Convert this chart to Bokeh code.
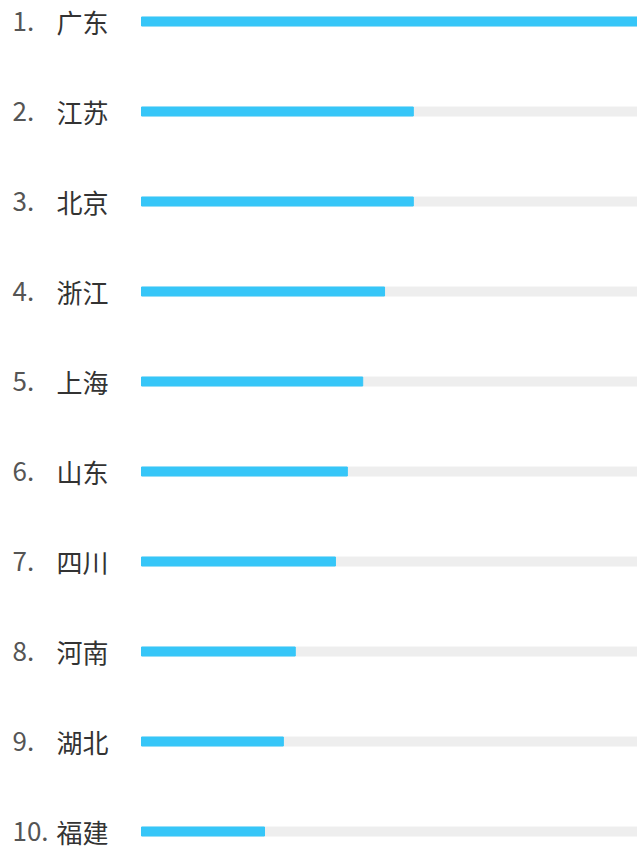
from bokeh.plotting import figure
from bokeh.models import Range1d, ColumnDataSource
from bokeh.core.properties import value
from bokeh.embed import file_html
from bokeh.resources import INLINE

provinces = ["广东", "江苏", "北京", "浙江", "上海", "山东", "四川", "河南", "湖北", "福建"]
ranks = ["1.", "2.", "3.", "4.", "5.", "6.", "7.", "8.", "9.", "10."]
values = [1.0, 0.548, 0.548, 0.49, 0.446, 0.415, 0.391, 0.31, 0.286, 0.248]

W, H = 637, 849
bar_left_px = 141
row_px = 90
first_px = 21

n = len(provinces)
ys = list(range(n))
src = ColumnDataSource(dict(y=ys, v=values, one=[1.0]*n, prov=provinces, rank=ranks))

unit = (W - bar_left_px)
p = figure(width=W, height=H, output_backend="svg", toolbar_location=None,
           x_range=Range1d(-bar_left_px / unit, 1.0),
           y_range=Range1d((H - first_px) / row_px, -first_px / row_px),
           min_border=0, outline_line_color=None)
p.axis.visible = False
p.grid.visible = False
p.background_fill_color = "white"
p.border_fill_color = "white"

bar_h = 9 / row_px
p.hbar(y="y", left=0, right="one", height=bar_h, source=src, color="#EEEEEE")
p.hbar(y="y", left=0, right="v", height=bar_h, source=src, color="#36C6F8")

p.text(x=-129 / unit, y="y", text="rank", source=src, text_font=value("Noto Sans CJK SC"),
       text_font_size="26px", text_color="#555555", text_baseline="middle", text_align="left")
p.text(x=-85 / unit, y="y", text="prov", source=src, text_font=value("Noto Sans CJK SC"),
       text_font_size="26px", text_color="#333333", text_baseline="middle", text_align="left")

open("out.html", "w").write(file_html(p, INLINE))
